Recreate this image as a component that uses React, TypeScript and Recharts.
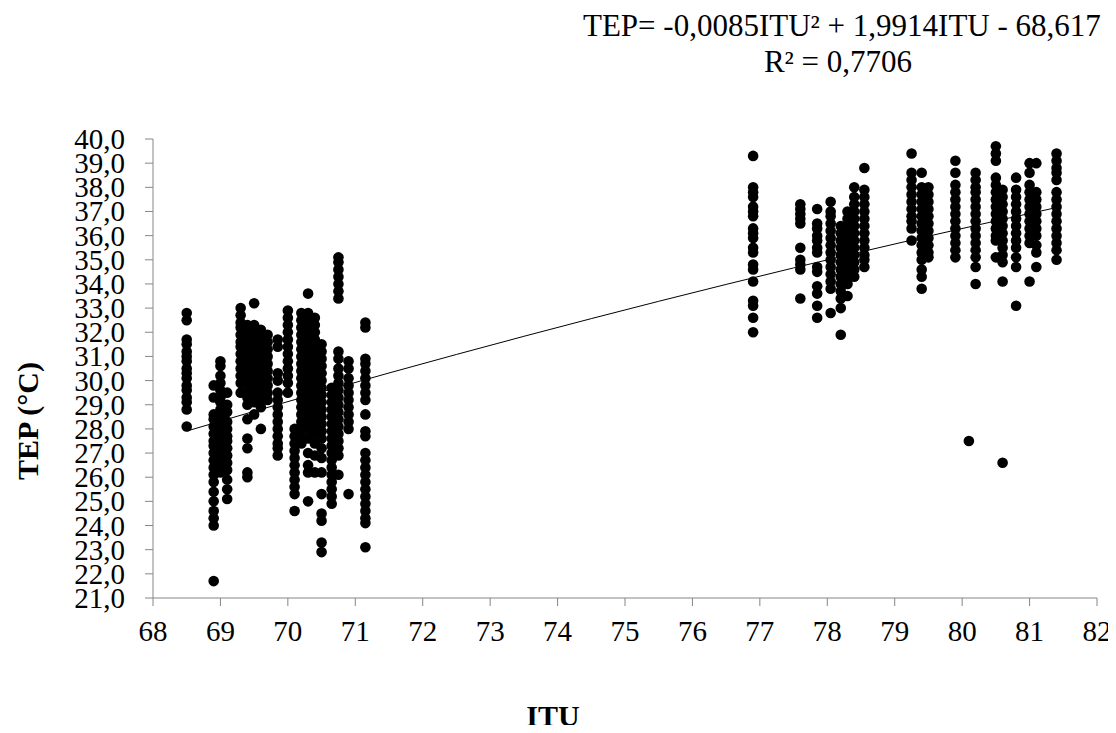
import React from 'react';
import { ScatterChart, Scatter, XAxis, YAxis } from 'recharts';

// ITU columns of the cooler period and the TEP (°C) readings recorded at each
const ituLow = [68.5, 68.9, 69.0, 69.1, 69.3, 69.4, 69.5, 69.6, 69.7, 69.85, 70.0, 70.1, 70.2, 70.3, 70.4, 70.5, 70.65, 70.75, 70.9, 71.15];
const tepLow = [
  [32.8, 32.5, 31.7, 31.5, 31.2, 31.0, 30.8, 30.5, 30.3, 30.1, 29.8, 29.6, 29.3, 29.1, 28.8, 28.1],
  [29.8, 29.3, 28.6, 28.4, 28.1, 27.8, 27.5, 27.3, 27.0, 26.7, 26.4, 26.1, 25.8, 25.4, 25.0, 24.6, 24.3, 24.0, 21.7],
  [30.8, 30.6, 30.2, 29.9, 29.6, 29.3, 29.1, 28.8, 28.5, 28.2, 27.9, 27.6, 27.4, 27.1, 26.8, 26.5, 26.2],
  [29.5, 29.0, 28.7, 28.3, 28.0, 27.7, 27.5, 27.2, 26.9, 26.6, 26.3, 25.9, 25.5, 25.1],
  [33.0, 32.7, 32.4, 32.2, 31.9, 31.6, 31.4, 31.1, 30.8, 30.5, 30.2, 29.9, 29.5],
  [32.3, 32.0, 31.7, 31.4, 31.1, 30.8, 30.5, 30.2, 29.9, 29.6, 29.3, 29.0, 28.4, 27.6, 27.2, 26.2, 26.0],
  [33.2, 32.3, 32.1, 31.8, 31.5, 31.2, 30.9, 30.6, 30.3, 30.0, 29.7, 29.4, 29.1, 28.6],
  [32.1, 31.9, 31.6, 31.3, 31.0, 30.7, 30.4, 30.1, 29.8, 29.5, 29.2, 28.9, 28.0],
  [31.9, 31.6, 31.3, 31.0, 30.7, 30.4, 30.1, 29.8, 29.5, 29.2],
  [31.7, 31.4, 30.3, 30.0, 29.5, 29.2, 28.9, 28.6, 28.3, 28.0, 27.7, 27.4, 27.2, 26.9],
  [32.9, 32.6, 32.3, 32.0, 31.7, 31.4, 31.1, 30.8, 30.5, 30.2, 29.9, 29.5],
  [28.0, 27.7, 27.4, 27.1, 26.8, 26.5, 26.2, 25.9, 25.6, 25.3, 24.6],
  [32.8, 32.5, 32.2, 31.9, 31.6, 31.3, 31.0, 30.7, 30.4, 30.1, 29.8, 29.5, 29.2, 28.9, 28.6, 28.3, 28.0, 27.7, 27.4],
  [33.6, 32.8, 32.5, 32.2, 31.9, 31.6, 31.3, 31.0, 30.7, 30.4, 30.1, 29.8, 29.5, 29.2, 28.9, 28.6, 28.3, 28.0, 27.6, 27.0, 26.5, 26.2, 25.0],
  [32.6, 32.3, 32.0, 31.7, 31.4, 31.1, 30.8, 30.5, 30.2, 29.9, 29.6, 29.3, 29.0, 28.7, 28.4, 28.1, 27.8, 27.4, 26.9, 26.2],
  [31.5, 31.2, 30.9, 30.6, 30.3, 30.0, 29.7, 29.4, 29.1, 28.8, 28.5, 28.2, 27.9, 27.6, 27.2, 26.8, 26.2, 25.3, 24.5, 24.2, 23.3, 22.9],
  [29.7, 29.4, 29.1, 28.8, 28.5, 28.2, 27.9, 27.6, 27.3, 27.0, 26.7, 26.4, 26.1, 25.8, 25.5, 25.2, 24.9],
  [35.1, 34.9, 34.6, 34.3, 34.0, 33.7, 33.4, 31.2, 30.9, 30.5, 30.2, 29.9, 29.6, 29.3, 29.0, 28.7, 28.4, 28.1, 27.8, 27.5, 27.2, 26.9, 26.1],
  [30.8, 30.5, 30.1, 29.8, 29.5, 29.2, 28.9, 28.6, 28.3, 28.0, 25.3],
  [32.4, 32.2, 30.9, 30.7, 30.4, 30.1, 29.8, 29.5, 29.2, 28.6, 27.9, 27.7, 27.0, 26.7, 26.4, 26.1, 25.8, 25.5, 25.2, 24.9, 24.6, 24.3, 24.1, 23.1],
];

// ITU columns of the warmer period and their TEP (°C) readings
const ituHigh = [76.9, 77.6, 77.85, 78.05, 78.2, 78.3, 78.4, 78.55, 79.25, 79.4, 79.5, 79.9, 80.2, 80.5, 80.6, 80.8, 81.0, 81.1, 81.4];
const tepHigh = [
  [39.3, 38.0, 37.8, 37.6, 37.2, 37.0, 36.8, 36.3, 36.1, 35.9, 35.5, 35.3, 34.8, 34.6, 34.1, 33.3, 33.1, 32.6, 32.0],
  [37.3, 37.1, 36.9, 36.7, 36.5, 35.5, 35.0, 34.8, 34.6, 33.4],
  [37.1, 36.5, 36.3, 36.0, 35.8, 35.5, 35.3, 34.7, 34.5, 33.9, 33.6, 33.1, 32.6],
  [37.4, 37.0, 36.8, 36.5, 36.2, 35.9, 35.6, 35.3, 35.0, 34.7, 34.4, 34.1, 33.8, 32.8],
  [36.4, 36.1, 35.8, 35.5, 35.2, 34.9, 34.6, 34.3, 34.0, 33.7, 33.4, 33.0, 31.9],
  [37.0, 36.7, 36.4, 36.1, 35.8, 35.5, 35.2, 34.9, 34.6, 34.3, 34.0, 33.5],
  [38.0, 37.6, 37.3, 37.0, 36.7, 36.4, 36.1, 35.8, 35.5, 35.2, 34.9, 34.6, 34.3],
  [38.8, 37.9, 37.6, 37.3, 37.0, 36.7, 36.4, 36.1, 35.8, 35.5, 35.2, 35.0, 34.7],
  [39.4, 38.6, 38.3, 38.0, 37.7, 37.4, 37.1, 36.8, 36.6, 36.3, 35.8],
  [38.6, 38.0, 37.7, 37.4, 37.1, 36.8, 36.5, 36.2, 35.9, 35.6, 35.3, 35.0, 34.6, 34.3, 33.8],
  [38.0, 37.7, 37.4, 37.1, 36.8, 36.5, 36.2, 35.9, 35.6, 35.3, 35.1],
  [39.1, 38.6, 38.1, 37.8, 37.5, 37.2, 36.9, 36.6, 36.3, 36.0, 35.7, 35.4, 35.1],
  [38.6, 38.3, 38.0, 37.8, 37.5, 37.2, 36.9, 36.6, 36.3, 36.0, 35.7, 35.4, 35.1, 34.7, 34.0],
  [39.7, 39.4, 39.1, 38.4, 38.1, 37.8, 37.5, 37.2, 36.9, 36.6, 36.3, 36.0, 35.8, 35.1],
  [37.9, 37.6, 37.3, 37.0, 36.7, 36.4, 36.1, 35.8, 35.5, 35.2, 34.9, 34.1],
  [38.4, 37.9, 37.6, 37.3, 37.0, 36.7, 36.4, 36.1, 35.8, 35.5, 35.1, 34.7, 33.1],
  [39.0, 38.6, 38.1, 37.8, 37.5, 37.2, 36.9, 36.6, 36.3, 36.0, 35.7, 34.1],
  [39.0, 37.8, 37.5, 37.2, 36.9, 36.6, 36.3, 36.0, 35.6, 35.3, 34.7],
  [39.4, 39.1, 38.8, 38.6, 38.3, 37.8, 37.5, 37.2, 36.9, 36.6, 36.3, 36.0, 35.7, 35.4, 35.0],
];

// two isolated low readings in the warm period
const ituOutliers = [80.1, 80.6];
const tepOutliers = [27.5, 26.6];

// quadratic fit TEP = a·ITU² + b·ITU + c
const fitA = -0.0085;
const fitB = 1.9914;
const fitC = -68.617;
const ituFitSamples = [68.5, 69.5, 70.5, 71.5, 72.5, 73.5, 74.5, 75.5, 76.5, 77.5, 78.5, 79.5, 80.5, 81.45];

const xTicks = [68, 69, 70, 71, 72, 73, 74, 75, 76, 77, 78, 79, 80, 81, 82];
const yTicks = [21, 22, 23, 24, 25, 26, 27, 28, 29, 30, 31, 32, 33, 34, 35, 36, 37, 38, 39, 40];

const points = [
  ...ituLow.flatMap((itu, i) => tepLow[i].map((tep) => ({ itu, tep }))),
  ...ituHigh.flatMap((itu, i) => tepHigh[i].map((tep) => ({ itu, tep }))),
  ...ituOutliers.map((itu, i) => ({ itu, tep: tepOutliers[i] })),
];
const fitLine = ituFitSamples.map((itu) => ({ itu, tep: fitA * itu * itu + fitB * itu + fitC }));

const SERIF = "'Liberation Serif', Tinos, 'Times New Roman', 'DejaVu Serif', serif";
const AXIS_GREY = '#868686';

const fmtComma = (v: number) => v.toFixed(1).replace('.', ',');

const Dot = (props: any) => <circle cx={props.cx} cy={props.cy} r={5.3} fill="#000" />;
const NoDot = () => null;

const YTick = (props: any) => {
  const { x, y, payload } = props;
  return (
    <text x={x} y={y} dy={10} textAnchor="end" style={{ fontFamily: SERIF }} fontSize={29} fill="#000">
      {fmtComma(payload.value)}
    </text>
  );
};

const XTick = (props: any) => {
  const { x, y, payload } = props;
  return (
    <text x={x} y={y} dy={31} textAnchor="middle" style={{ fontFamily: SERIF }} fontSize={29} fill="#000">
      {payload.value}
    </text>
  );
};

export default function App() {
  return (
    <div style={{ position: 'relative', width: 1108, height: 717, fontFamily: SERIF, color: '#000' }}>
      <ScatterChart width={1108} height={717} margin={{ top: 131, right: 19, bottom: 87, left: 85 }}>
        <XAxis
          type="number"
          dataKey="itu"
          domain={[68, 82]}
          ticks={xTicks}
          interval={0}
          height={40}
          tickSize={8}
          tickMargin={4}
          axisLine={{ stroke: AXIS_GREY }}
          tickLine={{ stroke: AXIS_GREY }}
          tick={<XTick />}
          allowDataOverflow
        />
        <YAxis
          type="number"
          dataKey="tep"
          domain={[21, 40]}
          ticks={yTicks}
          interval={0}
          width={60}
          tickSize={8}
          tickMargin={20}
          axisLine={{ stroke: AXIS_GREY }}
          tickLine={{ stroke: AXIS_GREY }}
          tick={<YTick />}
          allowDataOverflow
        />
        <Scatter data={points} shape={<Dot />} isAnimationActive={false} />
        <Scatter
          data={fitLine}
          line={{ stroke: '#000', strokeWidth: 1 }}
          shape={<NoDot />}
          isAnimationActive={false}
        />
      </ScatterChart>

      <div style={{ position: 'absolute', left: 575, top: 1, fontSize: 31, whiteSpace: 'nowrap', lineHeight: '34px' }}>
        TEP= -0,0085ITU² + 1,9914ITU - 68,617
      </div>
      <div style={{ position: 'absolute', left: 700, width: 260, top: 37, fontSize: 31, textAlign: 'center', whiteSpace: 'nowrap', lineHeight: '34px' }}>
        R² = 0,7706
      </div>
      <div style={{ position: 'absolute', left: 20, top: 413, width: 0, height: 0 }}>
        <div
          style={{
            position: 'absolute',
            transform: 'translate(-50%, -50%) rotate(-90deg)',
            fontSize: 30,
            fontWeight: 'bold',
            whiteSpace: 'nowrap',
            lineHeight: '34px',
          }}
        >
          TEP (°C)
        </div>
      </div>
      <div style={{ position: 'absolute', left: 445, width: 200, top: 691, fontSize: 30, fontWeight: 'bold', textAlign: 'center', lineHeight: '34px' }}>
        ITU
      </div>
    </div>
  );
}
